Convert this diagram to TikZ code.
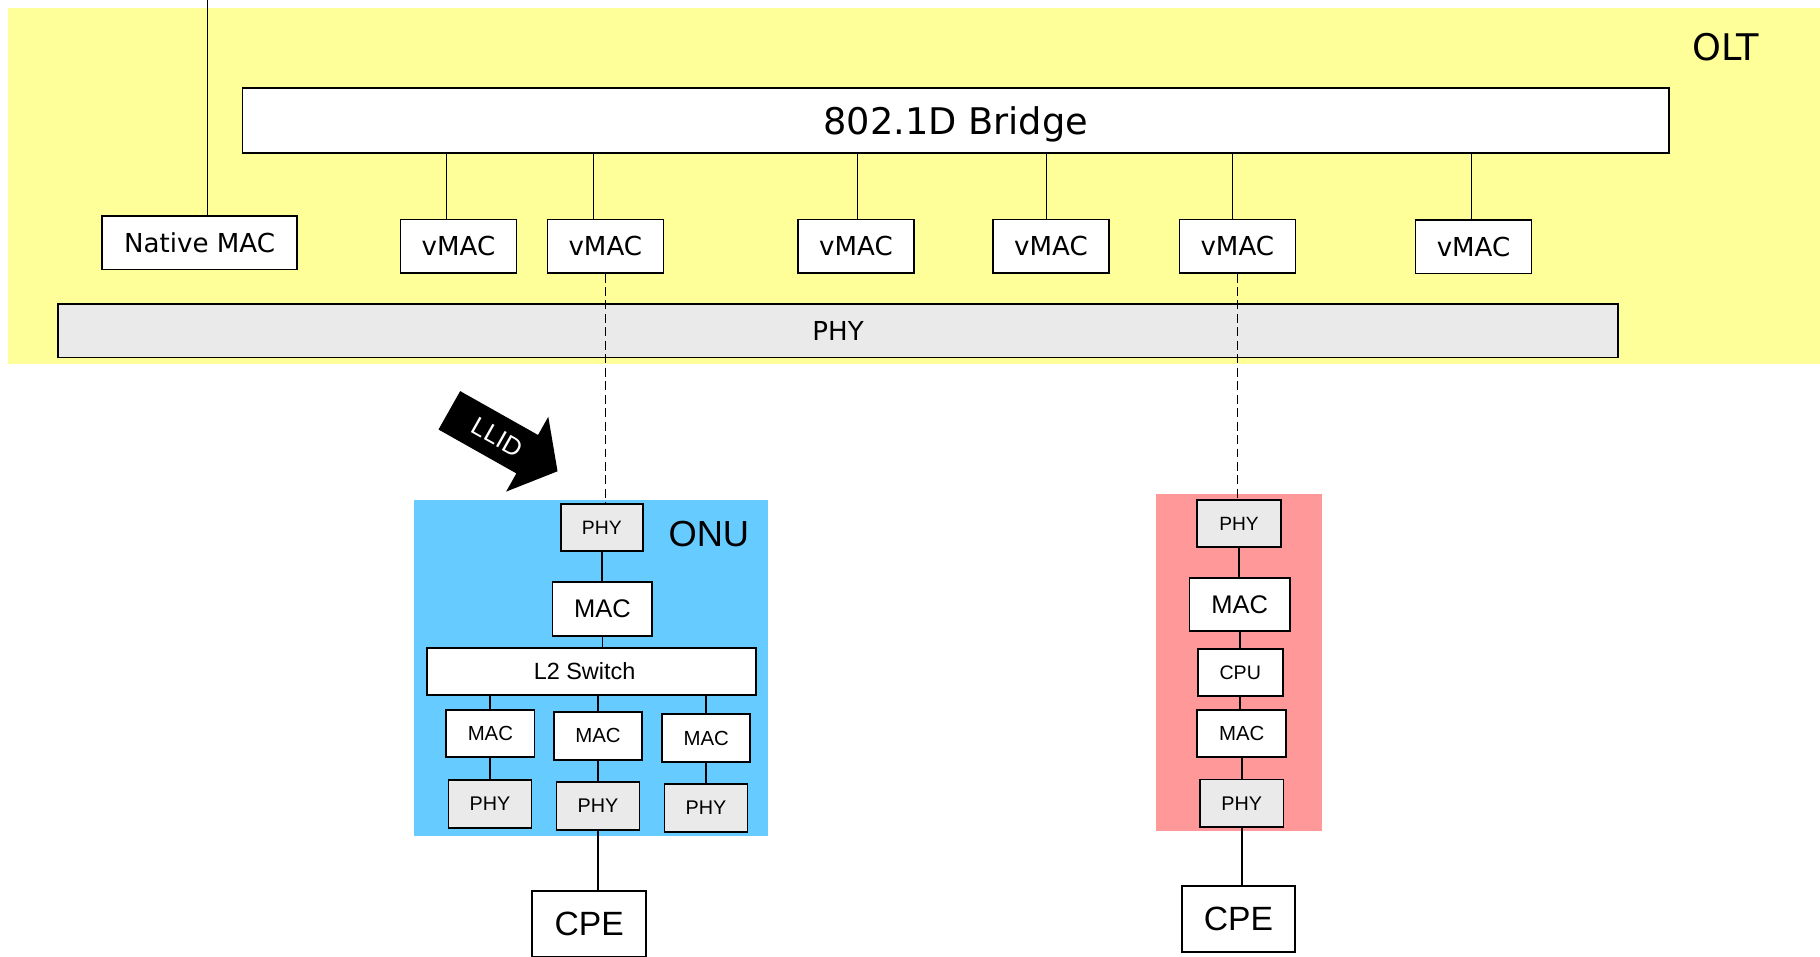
\documentclass[tikz,border=0pt]{standalone}
\usepackage{fontspec}
\setmainfont{Liberation Sans}
\newfontfamily\oltfont{DejaVu Sans}
\usetikzlibrary{calc}

\definecolor{oltyellow}{HTML}{FFFF99}
\definecolor{onublue}{HTML}{66CCFF}
\definecolor{onupink}{HTML}{FF9999}
\definecolor{phygray}{HTML}{EAEAEA}

\newcommand{\fsz}[1]{\fontsize{#1}{#1}\selectfont}

\tikzset{
  oltbox/.style={draw, line width=0.75pt, fill=white, inner sep=0pt,
    minimum width=2cm, minimum height=0.92cm, font=\oltfont\fsz{12.8pt}},
  onubox/.style={draw, line width=0.9pt, fill=white, inner sep=0pt,
    minimum width=1.52cm, minimum height=0.82cm, font=\fsz{10pt}},
  phybox/.style={onubox, fill=phygray, minimum width=1.43cm, font=\fsz{9.7pt}},
  oltlink/.style={line width=0.6pt},
  onulink/.style={line width=0.9pt},
  llidlink/.style={line width=0.7pt, dash pattern=on 4.4pt off 2.2pt}
}

\begin{document}
\begin{tikzpicture}[x=0.02cm, y=-0.02cm]
\useasboundingbox (0,0) rectangle (1568,824);

% OLT
\fill[oltyellow] (7,7) rectangle (1568,314);
\node[font=\oltfont\fsz{18pt}] (olt) at (1487,40.5) {OLT};
\node[oltbox, minimum width=24.58cm, minimum height=1.12cm, text depth=0pt, font=\oltfont\fsz{18pt}] (bridge) at (823.5,104) {802.1D Bridge};
\node[oltbox, minimum width=3.36cm] (nmac) at (172,209) {Native MAC};
\node[oltbox] (vm1) at (395,212) {vMAC};
\node[oltbox] (vm2) at (521.5,212) {vMAC};
\node[oltbox] (vm3) at (737.5,212) {vMAC};
\node[oltbox] (vm4) at (905.5,212) {vMAC};
\node[oltbox] (vm5) at (1066,212) {vMAC};
\node[oltbox] (vm6) at (1269.5,212.5) {vMAC};
\node[oltbox, fill=phygray, minimum width=26.88cm] (oltphy) at (722,285) {PHY};

\coordinate (uplink) at (178.5,0);
\draw[oltlink] (uplink) -- (uplink |- nmac.north);
\foreach \i/\dx in {1/-10.5,2/-10.5,3/1,4/-4,5/-4,6/-1.5} {
  \path (vm\i.north) ++(\dx,0) coordinate (tap\i);
  \draw[oltlink] (tap\i) -- (tap\i |- bridge.south);
}

% ONU
\fill[onublue] (357,431) rectangle (662,720);
\node[font=\fsz{17.8pt}] (onu) at (610.7,460.3) {ONU};
\node[phybox, minimum width=1.42cm, minimum height=0.8cm, font=\fsz{9.5pt}] (onuphy) at (518.5,454.5) {PHY};
\node[onubox, minimum width=1.72cm, minimum height=0.93cm, font=\fsz{12.5pt}] (onumac) at (519,524.8) {MAC};
\node[onubox, minimum width=5.67cm, minimum height=0.8cm, font=\fsz{11.5pt}] (l2sw) at (509.8,578.5) {\hspace*{-7pt}L2 Switch};
\node[onubox] (maca) at (422.5,632) {MAC};
\node[onubox] (macb) at (515.2,634) {MAC};
\node[onubox] (macc) at (608.5,635.8) {MAC};
\node[phybox] (phya) at (422.2,692.7) {PHY};
\node[phybox] (phyb) at (515.2,694.3) {PHY};
\node[phybox] (phyc) at (608.2,696) {PHY};
\node[onubox, minimum width=1.96cm, minimum height=1.14cm, font=\fsz{16.5pt}] (cpeleft) at (507.6,796) {CPE};

\draw[onulink] (onuphy.south) -- (onuphy.south |- onumac.north);
\draw[onulink] (onumac.south) -- (onumac.south |- l2sw.north);
\foreach \p in {a,b,c} {
  \draw[onulink] (mac\p.north |- l2sw.south) -- (mac\p.north);
  \draw[onulink] (mac\p.south) -- (mac\p.south |- phy\p.north);
}
\draw[onulink] (phyb.south) -- (phyb.south |- cpeleft.north);

% single ONU with CPU
\fill[onupink] (996,426) rectangle (1139,716);
\node[phybox, minimum width=1.44cm, font=\fsz{9.4pt}] (pphy) at (1067.5,451) {PHY};
\node[onubox, minimum width=1.73cm, minimum height=0.92cm, font=\fsz{12.5pt}] (pmac) at (1068,520.8) {MAC};
\node[onubox, minimum width=1.46cm, minimum height=0.81cm, font=\fsz{9.6pt}] (cpu) at (1068.5,579.2) {CPU};
\node[onubox, minimum width=1.53cm, minimum height=0.81cm] (pmac2) at (1069.8,631.6) {MAC};
\node[phybox, minimum width=1.44cm] (pphy2) at (1069.8,692.1) {PHY};
\node[onubox, minimum width=1.95cm, minimum height=1.14cm, font=\fsz{16.5pt}] (cperight) at (1066.9,791.6) {CPE};

\draw[onulink] (pphy.south) -- (pphy.south |- pmac.north);
\draw[onulink] (pmac.south) -- (pmac.south |- cpu.north);
\draw[onulink] (cpu.south) -- (cpu.south |- pmac2.north);
\draw[onulink] (pmac2.south) -- (pmac2.south |- pphy2.north);
\draw[onulink] (pphy2.south) -- (pphy2.south |- cperight.north);

% logical links
\draw[llidlink] (vm2.south) -- (vm2.south |- onuphy.north);
\draw[llidlink] (vm5.south) -- (vm5.south |- pphy.north);

% LLID arrow
\begin{scope}[shift={(454.2,391.3)}, rotate=-29.4]
  \fill (-77,-19) -- (0,-19) -- (0,-37) -- (30,0) -- (0,37) -- (0,19) -- (-77,19) -- cycle;
  \node[text=white, rotate=-29.4, font=\fsz{12.5pt}] (llid) at (-29.3,0) {LLID};
\end{scope}
\end{tikzpicture}
\end{document}
